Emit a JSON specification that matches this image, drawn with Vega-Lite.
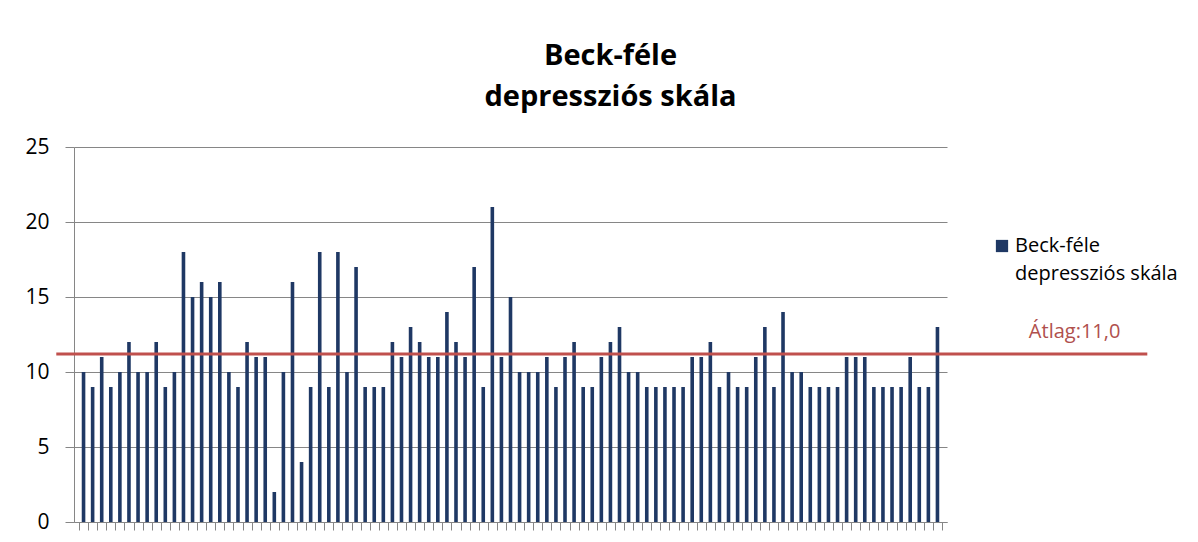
{
  "$schema": "https://vega.github.io/schema/vega-lite/v6.json",
  "autosize": {"type": "none"},
  "width": 873,
  "height": 375,
  "padding": {"left": 74, "top": 147, "right": 251, "bottom": 20},
  "background": "white",
  "config": {"font": "Open Sans", "view": {"stroke": null}},
  "title": {
    "text": ["Beck-féle", "depressziós skála"],
    "font": "Open Sans",
    "fontSize": 29,
    "fontWeight": "bold",
    "color": "#000000",
    "anchor": "middle",
    "frame": "group",
    "dx": 100,
    "offset": 24,
    "lineHeight": 41
  },
  "layer": [
    {
      "data": {
        "values": [
          {"i": 1, "v": 10, "s": "Beck-féle depressziós skála"},
          {"i": 2, "v": 9, "s": "Beck-féle depressziós skála"},
          {"i": 3, "v": 11, "s": "Beck-féle depressziós skála"},
          {"i": 4, "v": 9, "s": "Beck-féle depressziós skála"},
          {"i": 5, "v": 10, "s": "Beck-féle depressziós skála"},
          {"i": 6, "v": 12, "s": "Beck-féle depressziós skála"},
          {"i": 7, "v": 10, "s": "Beck-féle depressziós skála"},
          {"i": 8, "v": 10, "s": "Beck-féle depressziós skála"},
          {"i": 9, "v": 12, "s": "Beck-féle depressziós skála"},
          {"i": 10, "v": 9, "s": "Beck-féle depressziós skála"},
          {"i": 11, "v": 10, "s": "Beck-féle depressziós skála"},
          {"i": 12, "v": 18, "s": "Beck-féle depressziós skála"},
          {"i": 13, "v": 15, "s": "Beck-féle depressziós skála"},
          {"i": 14, "v": 16, "s": "Beck-féle depressziós skála"},
          {"i": 15, "v": 15, "s": "Beck-féle depressziós skála"},
          {"i": 16, "v": 16, "s": "Beck-féle depressziós skála"},
          {"i": 17, "v": 10, "s": "Beck-féle depressziós skála"},
          {"i": 18, "v": 9, "s": "Beck-féle depressziós skála"},
          {"i": 19, "v": 12, "s": "Beck-féle depressziós skála"},
          {"i": 20, "v": 11, "s": "Beck-féle depressziós skála"},
          {"i": 21, "v": 11, "s": "Beck-féle depressziós skála"},
          {"i": 22, "v": 2, "s": "Beck-féle depressziós skála"},
          {"i": 23, "v": 10, "s": "Beck-féle depressziós skála"},
          {"i": 24, "v": 16, "s": "Beck-féle depressziós skála"},
          {"i": 25, "v": 4, "s": "Beck-féle depressziós skála"},
          {"i": 26, "v": 9, "s": "Beck-féle depressziós skála"},
          {"i": 27, "v": 18, "s": "Beck-féle depressziós skála"},
          {"i": 28, "v": 9, "s": "Beck-féle depressziós skála"},
          {"i": 29, "v": 18, "s": "Beck-féle depressziós skála"},
          {"i": 30, "v": 10, "s": "Beck-féle depressziós skála"},
          {"i": 31, "v": 17, "s": "Beck-féle depressziós skála"},
          {"i": 32, "v": 9, "s": "Beck-féle depressziós skála"},
          {"i": 33, "v": 9, "s": "Beck-féle depressziós skála"},
          {"i": 34, "v": 9, "s": "Beck-féle depressziós skála"},
          {"i": 35, "v": 12, "s": "Beck-féle depressziós skála"},
          {"i": 36, "v": 11, "s": "Beck-féle depressziós skála"},
          {"i": 37, "v": 13, "s": "Beck-féle depressziós skála"},
          {"i": 38, "v": 12, "s": "Beck-féle depressziós skála"},
          {"i": 39, "v": 11, "s": "Beck-féle depressziós skála"},
          {"i": 40, "v": 11, "s": "Beck-féle depressziós skála"},
          {"i": 41, "v": 14, "s": "Beck-féle depressziós skála"},
          {"i": 42, "v": 12, "s": "Beck-féle depressziós skála"},
          {"i": 43, "v": 11, "s": "Beck-féle depressziós skála"},
          {"i": 44, "v": 17, "s": "Beck-féle depressziós skála"},
          {"i": 45, "v": 9, "s": "Beck-féle depressziós skála"},
          {"i": 46, "v": 21, "s": "Beck-féle depressziós skála"},
          {"i": 47, "v": 11, "s": "Beck-féle depressziós skála"},
          {"i": 48, "v": 15, "s": "Beck-féle depressziós skála"},
          {"i": 49, "v": 10, "s": "Beck-féle depressziós skála"},
          {"i": 50, "v": 10, "s": "Beck-féle depressziós skála"},
          {"i": 51, "v": 10, "s": "Beck-féle depressziós skála"},
          {"i": 52, "v": 11, "s": "Beck-féle depressziós skála"},
          {"i": 53, "v": 9, "s": "Beck-féle depressziós skála"},
          {"i": 54, "v": 11, "s": "Beck-féle depressziós skála"},
          {"i": 55, "v": 12, "s": "Beck-féle depressziós skála"},
          {"i": 56, "v": 9, "s": "Beck-féle depressziós skála"},
          {"i": 57, "v": 9, "s": "Beck-féle depressziós skála"},
          {"i": 58, "v": 11, "s": "Beck-féle depressziós skála"},
          {"i": 59, "v": 12, "s": "Beck-féle depressziós skála"},
          {"i": 60, "v": 13, "s": "Beck-féle depressziós skála"},
          {"i": 61, "v": 10, "s": "Beck-féle depressziós skála"},
          {"i": 62, "v": 10, "s": "Beck-féle depressziós skála"},
          {"i": 63, "v": 9, "s": "Beck-féle depressziós skála"},
          {"i": 64, "v": 9, "s": "Beck-féle depressziós skála"},
          {"i": 65, "v": 9, "s": "Beck-féle depressziós skála"},
          {"i": 66, "v": 9, "s": "Beck-féle depressziós skála"},
          {"i": 67, "v": 9, "s": "Beck-féle depressziós skála"},
          {"i": 68, "v": 11, "s": "Beck-féle depressziós skála"},
          {"i": 69, "v": 11, "s": "Beck-féle depressziós skála"},
          {"i": 70, "v": 12, "s": "Beck-féle depressziós skála"},
          {"i": 71, "v": 9, "s": "Beck-féle depressziós skála"},
          {"i": 72, "v": 10, "s": "Beck-féle depressziós skála"},
          {"i": 73, "v": 9, "s": "Beck-féle depressziós skála"},
          {"i": 74, "v": 9, "s": "Beck-féle depressziós skála"},
          {"i": 75, "v": 11, "s": "Beck-féle depressziós skála"},
          {"i": 76, "v": 13, "s": "Beck-féle depressziós skála"},
          {"i": 77, "v": 9, "s": "Beck-féle depressziós skála"},
          {"i": 78, "v": 14, "s": "Beck-féle depressziós skála"},
          {"i": 79, "v": 10, "s": "Beck-féle depressziós skála"},
          {"i": 80, "v": 10, "s": "Beck-féle depressziós skála"},
          {"i": 81, "v": 9, "s": "Beck-féle depressziós skála"},
          {"i": 82, "v": 9, "s": "Beck-féle depressziós skála"},
          {"i": 83, "v": 9, "s": "Beck-féle depressziós skála"},
          {"i": 84, "v": 9, "s": "Beck-féle depressziós skála"},
          {"i": 85, "v": 11, "s": "Beck-féle depressziós skála"},
          {"i": 86, "v": 11, "s": "Beck-féle depressziós skála"},
          {"i": 87, "v": 11, "s": "Beck-féle depressziós skála"},
          {"i": 88, "v": 9, "s": "Beck-féle depressziós skála"},
          {"i": 89, "v": 9, "s": "Beck-féle depressziós skála"},
          {"i": 90, "v": 9, "s": "Beck-féle depressziós skála"},
          {"i": 91, "v": 9, "s": "Beck-féle depressziós skála"},
          {"i": 92, "v": 11, "s": "Beck-féle depressziós skála"},
          {"i": 93, "v": 9, "s": "Beck-féle depressziós skála"},
          {"i": 94, "v": 9, "s": "Beck-féle depressziós skála"},
          {"i": 95, "v": 13, "s": "Beck-féle depressziós skála"}
        ]
      },
      "mark": {"type": "bar", "width": 3.6},
      "encoding": {
        "x": {
          "field": "i",
          "type": "quantitative",
          "scale": {"domain": [0.5, 95.5], "nice": false, "zero": false},
          "axis": {
            "values": [0.5, 1.5, 2.5, 3.5, 4.5, 5.5, 6.5, 7.5, 8.5, 9.5, 10.5, 11.5, 12.5, 13.5, 14.5, 15.5, 16.5, 17.5, 18.5, 19.5, 20.5, 21.5, 22.5, 23.5, 24.5, 25.5, 26.5, 27.5, 28.5, 29.5, 30.5, 31.5, 32.5, 33.5, 34.5, 35.5, 36.5, 37.5, 38.5, 39.5, 40.5, 41.5, 42.5, 43.5, 44.5, 45.5, 46.5, 47.5, 48.5, 49.5, 50.5, 51.5, 52.5, 53.5, 54.5, 55.5, 56.5, 57.5, 58.5, 59.5, 60.5, 61.5, 62.5, 63.5, 64.5, 65.5, 66.5, 67.5, 68.5, 69.5, 70.5, 71.5, 72.5, 73.5, 74.5, 75.5, 76.5, 77.5, 78.5, 79.5, 80.5, 81.5, 82.5, 83.5, 84.5, 85.5, 86.5, 87.5, 88.5, 89.5, 90.5, 91.5, 92.5, 93.5, 94.5, 95.5],
            "tickCount": 200,
            "labels": false,
            "title": null,
            "grid": false,
            "tickSize": 8,
            "tickWidth": 1,
            "tickColor": "#868686",
            "domainColor": "#868686"
          }
        },
        "y": {
          "field": "v",
          "type": "quantitative",
          "scale": {"domain": [0, 25], "nice": false},
          "axis": {
            "values": [0, 5, 10, 15, 20, 25],
            "title": null,
            "grid": true,
            "gridColor": "#868686",
            "domainColor": "#868686",
            "tickColor": "#868686",
            "tickSize": 9,
            "labelFont": "Open Sans",
            "labelFontSize": 21,
            "labelColor": "#000000",
            "labelPadding": 16
          }
        },
        "color": {
          "field": "s",
          "type": "nominal",
          "scale": {"range": ["#1F3864"]},
          "legend": {
            "orient": "none",
            "legendX": 918,
            "legendY": 89,
            "title": null,
            "symbolType": "square",
            "symbolSize": 150,
            "symbolStrokeWidth": 0,
            "labelFont": "Open Sans",
            "labelFontSize": 20,
            "labelColor": "#000000",
            "labelLimit": 300,
            "labelOffset": 3,
            "labelExpr": "[slice(datum.label, 0, 9), slice(datum.label, 10)]",
            "encode": {"labels": {"update": {"lineHeight": {"value": 28}}}}
          }
        }
      }
    },
    {
      "data": {"values": [{"label": "Átlag:11,0"}]},
      "mark": {"type": "rule", "color": "#C0504D", "strokeWidth": 3},
      "encoding": {
        "x": {"datum": -2},
        "x2": {"datum": 118.1},
        "y": {"datum": 11.2}
      }
    },
    {
      "data": {"values": [{"label": "Átlag:11,0"}]},
      "mark": {"type": "text", "font": "Open Sans", "fontSize": 20, "color": "#B0504D", "align": "center", "baseline": "alphabetic"},
      "encoding": {
        "x": {"datum": 110.1},
        "y": {"datum": 12.3},
        "text": {"field": "label"}
      }
    }
  ]
}
